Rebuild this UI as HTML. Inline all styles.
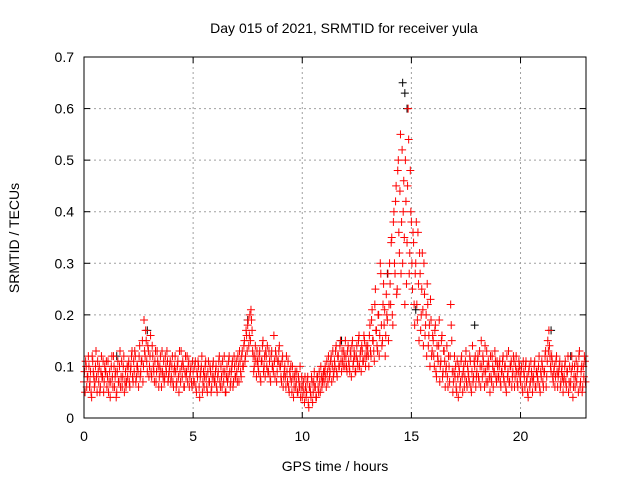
<!DOCTYPE html>
<html><head><meta charset="utf-8"><style>
body{margin:0;background:#fff}
svg text{font-family:"Liberation Sans",sans-serif;font-size:14px;fill:#000}
</style></head><body>
<svg id="chart" width="640" height="480" xmlns="http://www.w3.org/2000/svg">
<rect width="640" height="480" fill="#fff"/>
<text x="344" y="33" text-anchor="middle">Day 015 of 2021, SRMTID for receiver yula</text>
<text transform="translate(19,238) rotate(-90)" text-anchor="middle">SRMTID / TECUs</text>
<text x="335" y="471" text-anchor="middle">GPS time / hours</text>
<g id="grid"></g><g id="ticks"></g><g id="black"></g><g id="red"></g>
<rect x="84" y="57" width="502" height="361" fill="none" stroke="#000" stroke-width="1"/>
</svg>
<script>
const xTicks=[0,5,10,15,20];
const yTicks=[0,0.1,0.2,0.3,0.4,0.5,0.6,0.7];
const yTickLabels=["0","0.1","0.2","0.3","0.4","0.5","0.6","0.7"];
const redStart=0, redStep=0.05;
const redValues=[
.07,.05,.10,.08,.12,.06,.09,.04,.11,.08,.07,.13,.05,.09,.10,.06,.12,.08,.05,.10,
.09,.06,.11,.07,.04,.10,.08,.12,.06,.09,.05,.11,.07,.13,.08,.06,.10,.05,.09,.07,
.08,.11,.06,.10,.13,.07,.09,.12,.08,.10,.06,.14,.09,.11,.07,.19,.12,.15,.09,.13,
.10,.16,.08,.12,.09,.11,.07,.13,.10,.08,.12,.06,.09,.11,.08,.10,.13,.07,.09,.11,
.08,.12,.06,.10,.09,.07,.11,.05,.09,.13,.08,.10,.06,.12,.09,.07,.11,.08,.10,.06,
.09,.07,.11,.05,.08,.10,.04,.09,.12,.07,.06,.10,.08,.05,.11,.07,.09,.06,.10,.08,
.07,.10,.05,.09,.12,.06,.08,.11,.07,.09,.05,.10,.08,.12,.06,.09,.11,.07,.10,.08,
.09,.12,.07,.11,.08,.13,.10,.15,.12,.16,.18,.14,.20,.21,.17,.12,.10,.14,.08,.11,
.09,.13,.07,.11,.15,.10,.08,.12,.14,.09,.11,.07,.13,.10,.16,.08,.12,.09,.11,.14,
.10,.07,.12,.08,.10,.06,.09,.11,.05,.08,.07,.10,.04,.08,.06,.09,.05,.07,.10,.06,
.04,.07,.03,.06,.05,.08,.02,.06,.04,.07,.05,.09,.06,.04,.08,.05,.07,.10,.06,.08,
.07,.10,.06,.09,.12,.08,.11,.07,.13,.09,.10,.14,.08,.12,.10,.15,.09,.11,.13,.10,
.12,.09,.14,.10,.13,.08,.15,.11,.12,.09,.14,.10,.16,.12,.09,.13,.11,.15,.10,.12,
.14,.10,.18,.12,.21,.15,.11,.25,.17,.13,.20,.16,.28,.14,.22,.18,.12,.24,.19,.15,
.30,.22,.35,.18,.40,.28,.45,.25,.50,.32,.55,.38,.30,.46,.22,.42,.34,.60,.28,.48,
.38,.25,.34,.18,.30,.22,.36,.15,.28,.20,.32,.14,.24,.18,.12,.22,.16,.10,.19,.13,
.15,.10,.18,.08,.12,.14,.07,.11,.16,.09,.13,.06,.10,.08,.12,.07,.22,.15,.05,.09,
.08,.06,.11,.04,.09,.07,.12,.05,.10,.08,.13,.06,.09,.07,.11,.05,.14,.08,.10,.06,
.09,.12,.07,.10,.15,.08,.11,.06,.09,.13,.07,.10,.05,.08,.12,.06,.09,.11,.07,.10,
.08,.11,.06,.09,.12,.07,.10,.05,.08,.13,.07,.10,.06,.09,.11,.08,.12,.07,.09,.10,
.07,.10,.05,.09,.06,.11,.08,.04,.10,.07,.09,.05,.08,.11,.06,.09,.07,.12,.05,.08,
.10,.06,.09,.13,.08,.15,.17,.12,.09,.11,.07,.10,.08,.12,.06,.09,.11,.07,.10,.05,
.08,.11,.06,.09,.05,.10,.07,.12,.04,.08,.06,.11,.09,.05,.13,.07,.10,.06,.08,.11];
const red2Start=0.025, red2Step=0.05;
const red2Values=[
.09,.11,.06,.08,.10,.07,.05,.12,.09,.06,.10,.08,.11,.07,.05,.09,.08,.11,.07,.09,
.11,.08,.05,.09,.07,.12,.06,.10,.08,.04,.09,.07,.10,.06,.11,.08,.12,.07,.06,.10,
.10,.07,.09,.12,.08,.11,.13,.07,.10,.09,.12,.08,.11,.15,.10,.13,.17,.11,.14,.08,
.12,.09,.14,.10,.07,.13,.09,.11,.06,.10,.09,.13,.08,.07,.12,.09,.11,.08,.10,.07,
.10,.07,.09,.12,.06,.10,.08,.13,.07,.10,.11,.06,.09,.08,.12,.10,.06,.09,.07,.11,
.07,.10,.06,.09,.11,.06,.08,.10,.05,.09,.08,.11,.06,.09,.07,.10,.05,.08,.11,.07,
.09,.06,.08,.11,.07,.10,.06,.09,.12,.05,.08,.07,.11,.09,.07,.10,.06,.12,.08,.11,
.07,.10,.13,.09,.12,.10,.14,.11,.17,.13,.19,.16,.15,.19,.13,.09,.12,.11,.13,.10,
.12,.08,.11,.14,.09,.12,.13,.10,.09,.13,.08,.12,.10,.09,.11,.13,.07,.11,.13,.10,
.08,.11,.06,.09,.08,.12,.07,.06,.09,.10,.05,.08,.06,.09,.07,.05,.08,.06,.04,.08,
.06,.05,.08,.04,.07,.03,.06,.05,.08,.03,.07,.06,.04,.08,.06,.09,.05,.08,.07,.09,
.09,.08,.11,.07,.10,.09,.12,.10,.08,.11,.13,.09,.12,.10,.14,.11,.13,.10,.12,.15,
.10,.13,.11,.09,.12,.14,.10,.13,.09,.12,.11,.15,.10,.13,.14,.11,.16,.12,.14,.13,
.12,.16,.13,.19,.15,.13,.22,.17,.14,.20,.12,.30,.18,.15,.26,.21,.16,.20,.28,.22,
.26,.34,.20,.38,.30,.42,.24,.48,.36,.44,.28,.52,.40,.35,.50,.26,.45,.54,.32,.40,
.30,.36,.22,.28,.38,.19,.26,.32,.17,.25,.21,.30,.16,.20,.26,.14,.18,.23,.12,.16,
.12,.17,.09,.14,.11,.19,.10,.15,.08,.13,.11,.09,.14,.06,.10,.12,.18,.09,.07,.12,
.10,.05,.08,.10,.06,.11,.08,.09,.06,.11,.07,.10,.08,.12,.06,.09,.07,.11,.12,.08,
.11,.08,.13,.06,.10,.12,.09,.14,.07,.10,.11,.08,.12,.07,.10,.09,.13,.08,.11,.08,
.10,.07,.09,.11,.08,.10,.06,.12,.09,.07,.10,.11,.08,.12,.06,.10,.09,.06,.11,.08,
.09,.06,.11,.08,.10,.07,.05,.09,.06,.11,.08,.07,.10,.06,.09,.08,.10,.06,.09,.11,
.07,.09,.12,.06,.11,.13,.14,.10,.12,.08,.09,.06,.11,.09,.08,.10,.06,.09,.08,.07,
.10,.07,.09,.12,.07,.06,.09,.10,.06,.10,.08,.07,.10,.12,.06,.09,.05,.10,.12,.07];
const blackTimes=[1.5,2.9,7.5,11.8,13.9,14.6,14.7,14.8,15.2,17.9,21.4,22.3];
const blackValues=[.12,.17,.19,.15,.28,.65,.63,.60,.21,.18,.17,.12];
const X0=84,X1=586,Y0=418,Y1=57,XMAX=23,YMAX=0.7;
const sx=v=>X0+(X1-X0)*v/XMAX, sy=v=>Y0-(Y0-Y1)*v/YMAX;
const NS="http://www.w3.org/2000/svg";
function mk(tag,attrs,parent){const e=document.createElementNS(NS,tag);for(const k in attrs)e.setAttribute(k,attrs[k]);parent.appendChild(e);return e;}
const grid=document.getElementById('grid'),ticks=document.getElementById('ticks');
xTicks.forEach(t=>{const x=sx(t);
 if(t>0){const g=mk('line',{x1:x,x2:x,y1:Y1,y2:Y0,stroke:'#a0a0a0','stroke-dasharray':'2,3'},grid);
 
 }
 mk('line',{x1:x,x2:x,y1:Y0,y2:Y0-6,stroke:'#000'},ticks);mk('line',{x1:x,x2:x,y1:Y1,y2:Y1+6,stroke:'#000'},ticks);
 const l=mk('text',{x:x,y:Y0+23,'text-anchor':'middle'},ticks);l.textContent=t;
 
 });
yTicks.forEach((t,i)=>{const y=sy(t);
 if(t>0&&t<YMAX){const g=mk('line',{x1:X0,x2:X1,y1:y,y2:y,stroke:'#a0a0a0','stroke-dasharray':'2,3'},grid);
 
 }
 mk('line',{x1:X0,x2:X0+6,y1:y,y2:y,stroke:'#000'},ticks);mk('line',{x1:X1,x2:X1-6,y1:y,y2:y,stroke:'#000'},ticks);
 const l=mk('text',{x:X0-10,y:y+5,'text-anchor':'end'},ticks);l.textContent=yTickLabels[i];
 
 });
function plus(x,y,c,parent){return mk('path',{d:`M${x-4},${y}h8M${x},${y-4}v8`,stroke:c,'stroke-width':1,fill:'none'},parent);}
const blk=document.getElementById('black'),red=document.getElementById('red');
blackTimes.forEach((t,i)=>{const p=plus(sx(t),sy(blackValues[i]),'#000',blk);
 
 });
redValues.forEach((v,i)=>{const p=plus(sx(redStart+i*redStep),sy(v),'#ff0000',red);
 
 });
red2Values.forEach((v,i)=>{const p=plus(sx(red2Start+i*red2Step),sy(v),'#ff0000',red);
 
 });
</script>
</body></html>
